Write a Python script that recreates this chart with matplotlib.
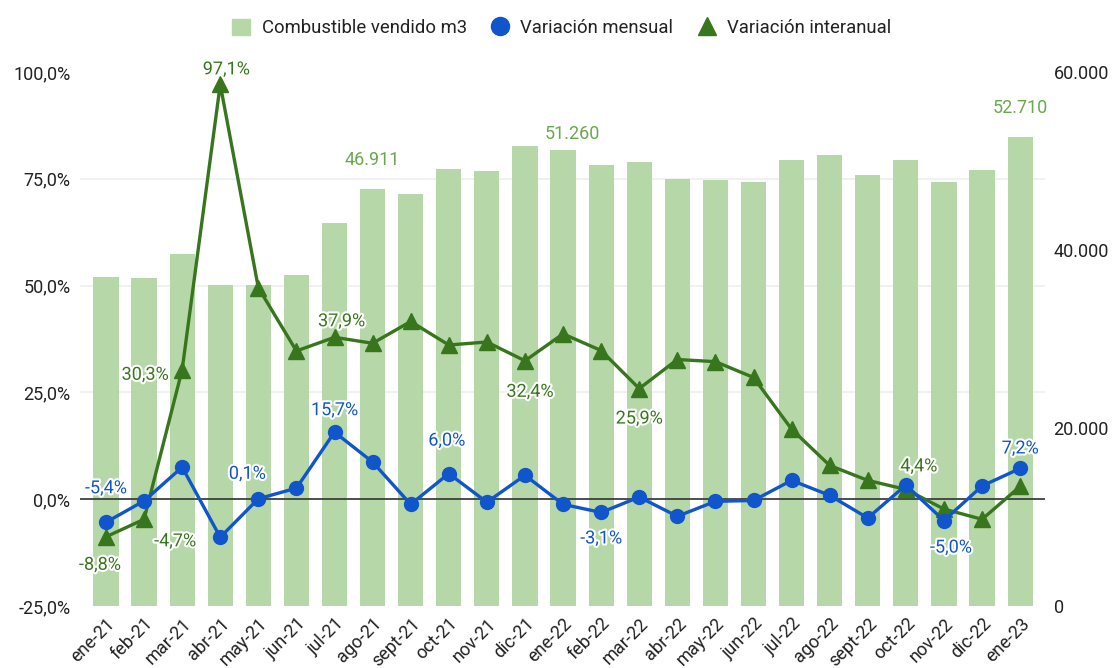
import numpy as np
import matplotlib.pyplot as plt
import matplotlib.patheffects as pe
from matplotlib.lines import Line2D
from matplotlib.patches import Patch
from matplotlib.ticker import MultipleLocator, FixedLocator

plt.rcParams['font.family'] = ['Roboto', 'DejaVu Sans']

# ---- data ----
months = ['ene-21', 'feb-21', 'mar-21', 'abr-21', 'may-21', 'jun-21', 'jul-21',
          'ago-21', 'sept-21', 'oct-21', 'nov-21', 'dic-21', 'ene-22', 'feb-22',
          'mar-22', 'abr-22', 'may-22', 'jun-22', 'jul-22', 'ago-22', 'sept-22',
          'oct-22', 'nov-22', 'dic-22', 'ene-23']

vendido = [36970, 36850, 39550, 36070, 36070, 37190, 43030, 46911, 46290, 49100,
           48880, 51690, 51260, 49550, 49890, 47980, 47870, 47640, 50110, 50670,
           48430, 50110, 47640, 48990, 52710]

var_mensual = [-5.4, -0.4, 7.5, -8.9, 0.1, 2.6, 15.7, 8.7, -1.2, 6.0, -0.7, 5.6,
               -1.2, -3.1, 0.5, -4.0, -0.5, -0.3, 4.4, 0.9, -4.4, 3.3, -5.0, 3.1, 7.2]

var_interanual = [-8.8, -4.7, 30.3, 97.1, 49.5, 34.7, 37.9, 36.5, 41.6, 36.1, 36.8,
                  32.4, 38.7, 34.8, 25.9, 32.7, 32.2, 28.5, 16.4, 7.9, 4.4, 2.3,
                  -2.3, -4.7, 3.0]

# which points carry a label, and where (pixel offsets)
lbl_mensual = {0: (0, 34), 4: (-11, 25), 6: (0, 22), 9: (-2, 33), 13: (0, -26),
               22: (7, -27), 24: (0, 20)}
lbl_interanual = {0: (-6, -28), 1: (31, -22), 2: (-37, -5), 3: (6, 15), 6: (7, 16),
                  11: (5, -31), 14: (0, -30), 20: (51, 14)}
lbl_vendido = {7: (0, 29), 12: (9, 16), 24: (0, 29)}

c_bar = '#b6d7a8'
c_bar_txt = '#6aa84f'
c_blue = '#1155cc'
c_green = '#38761d'
c_txt = '#222222'


def pct(v):
    return f'{v:.1f}'.replace('.', ',') + '%'


def miles(v):
    return f'{v:,.0f}'.replace(',', '.')


fig = plt.figure(figsize=(11.12, 6.68), dpi=100)
ax_bar = fig.add_axes([0.072, 0.0928, 0.868, 0.7994])
x = np.arange(len(months))

ax_bar.bar(x, vendido, width=0.66, color=c_bar, zorder=2)
ax_bar.set_ylim(0, 60000)
ax_bar.set_xlim(-0.68, len(months) - 1 + 0.66)
ax_bar.yaxis.set_major_locator(FixedLocator([0, 20000, 40000, 60000]))
ax_bar.set_yticklabels([miles(v) for v in [0, 20000, 40000, 60000]])
ax_bar.yaxis.set_minor_locator(MultipleLocator(12000))
ax_bar.grid(which='minor', axis='y', color='#efefef', lw=1.2, zorder=0)
ax_bar.set_axisbelow(True)
ax_bar.set_xticks(x)
ax_bar.set_xticklabels(months, rotation=45, ha='right', rotation_mode='anchor',
                       fontsize=13, color=c_txt)
ax_bar.tick_params(axis='x', length=0, pad=6)
for s in ax_bar.spines.values():
    s.set_visible(False)

for i, (dx, dy) in lbl_vendido.items():
    ax_bar.annotate(miles(vendido[i]), (x[i], vendido[i]), xytext=(dx, dy),
                    textcoords='offset pixels', ha='center', va='center',
                    fontsize=13, color=c_bar_txt)

ax = ax_bar.twinx()
# twinx moves the original ticks to the left; put them back on the right
ax_bar.yaxis.tick_right()
ax_bar.tick_params(axis='y', which='both', length=0, pad=6, labelsize=13, labelcolor=c_txt)
ax.yaxis.tick_left()
ax.set_ylim(-25, 100)
ax.set_yticks([-25, 0, 25, 50, 75, 100])
ax.set_yticklabels([pct(v) for v in [-25, 0, 25, 50, 75, 100]])
ax.tick_params(axis='y', length=0, pad=7, labelsize=13, labelcolor=c_txt)
for s in ax.spines.values():
    s.set_visible(False)
ax.axhline(0, color='#333333', lw=1.2, zorder=1)

halo = [pe.withStroke(linewidth=3, foreground='white')]
ax.plot(x, var_interanual, color=c_green, lw=2.4, marker='^', ms=11, zorder=3)
ax.plot(x, var_mensual, color=c_blue, lw=2.4, marker='o', ms=10, zorder=4)

for i, (dx, dy) in lbl_interanual.items():
    ax.annotate(pct(var_interanual[i]), (x[i], var_interanual[i]), xytext=(dx, dy),
                textcoords='offset pixels', ha='center', va='center',
                fontsize=13, color=c_green, path_effects=halo, zorder=5)
for i, (dx, dy) in lbl_mensual.items():
    ax.annotate(pct(var_mensual[i]), (x[i], var_mensual[i]), xytext=(dx, dy),
                textcoords='offset pixels', ha='center', va='center',
                fontsize=13, color=c_blue, path_effects=halo, zorder=5)

handles = [Patch(color=c_bar),
           Line2D([], [], ls='none', marker='o', ms=13, color=c_blue),
           Line2D([], [], ls='none', marker='^', ms=13, color=c_green)]
fig.legend(handles, ['Combustible vendido m3', 'Variación mensual', 'Variación interanual'],
           loc='center', bbox_to_anchor=(0.505, 0.958), ncol=3, frameon=False,
           fontsize=13.3, handlelength=1.0, handleheight=1.0, handletextpad=0.6,
           columnspacing=1.3, labelcolor=c_txt)

fig.savefig('out.png', dpi=100)
